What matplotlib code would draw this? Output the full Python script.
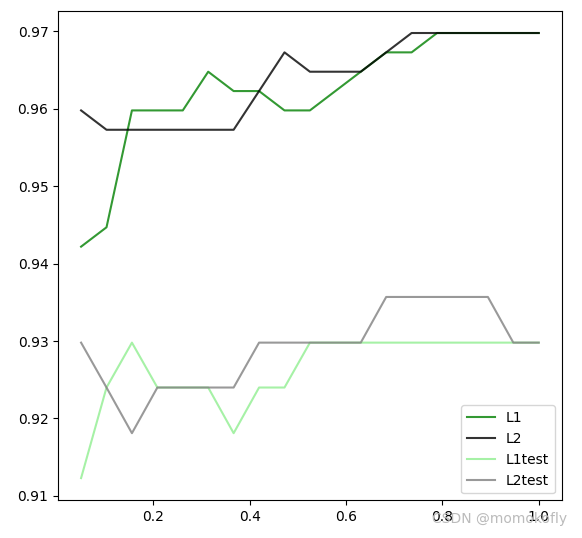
import numpy as np
import matplotlib
matplotlib.use('Agg')
import matplotlib.pyplot as plt

c_values = np.linspace(0.05, 1, 19)
l1 = [0.9422, 0.9447, 0.9598, 0.9598, 0.9598, 0.9648, 0.9623, 0.9623, 0.9598, 0.9598,
      0.9623, 0.9648, 0.9673, 0.9673, 0.9698, 0.9698, 0.9698, 0.9698, 0.9698]
l2 = [0.9598, 0.9573, 0.9573, 0.9573, 0.9573, 0.9573, 0.9573, 0.9623, 0.9673, 0.9648,
      0.9648, 0.9648, 0.9673, 0.9698, 0.9698, 0.9698, 0.9698, 0.9698, 0.9698]
l1_test = [0.9123, 0.9240, 0.9298, 0.9240, 0.9240, 0.9240, 0.9181, 0.9240, 0.9240, 0.9298,
           0.9298, 0.9298, 0.9298, 0.9298, 0.9298, 0.9298, 0.9298, 0.9298, 0.9298]
l2_test = [0.9298, 0.9240, 0.9181, 0.9240, 0.9240, 0.9240, 0.9240, 0.9298, 0.9298, 0.9298,
           0.9298, 0.9298, 0.9357, 0.9357, 0.9357, 0.9357, 0.9357, 0.9298, 0.9298]

fig = plt.figure(figsize=(5.82, 5.38), dpi=100)
ax = fig.add_axes([0.1, 0.07, 0.865, 0.91])
ax.plot(c_values, l1, color='green', alpha=0.8, label='L1')
ax.plot(c_values, l2, color='black', alpha=0.8, label='L2')
ax.plot(c_values, l1_test, color='lightgreen', alpha=0.8, label='L1test')
ax.plot(c_values, l2_test, color='gray', alpha=0.8, label='L2test')
ax.legend(loc=4)
fig.text(0.975, 0.035, 'CSDN @momokofly', ha='right', va='center', color='#bbbbbb', fontsize=10)
fig.savefig('out.png')
